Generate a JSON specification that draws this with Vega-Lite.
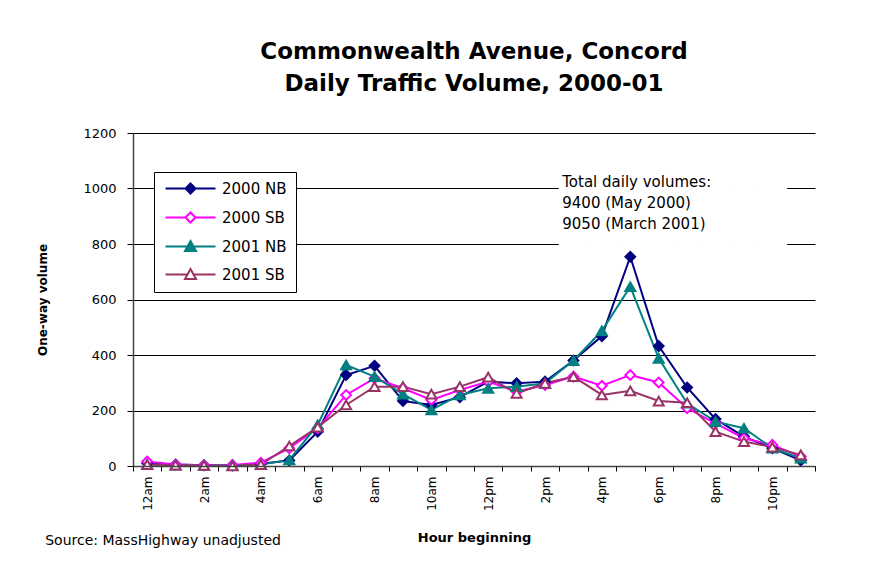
{
  "$schema": "https://vega.github.io/schema/vega-lite/v6.json",
  "width": 682,
  "height": 333,
  "autosize": "none",
  "padding": {"left": 133, "top": 133, "right": 69, "bottom": 98},
  "background": "white",
  "title": {
    "text": ["Commonwealth Avenue, Concord", "Daily Traffic Volume, 2000-01"],
    "font": "DejaVu Sans",
    "fontSize": 23,
    "fontWeight": "bold",
    "lineHeight": 32,
    "anchor": "middle",
    "frame": "group",
    "offset": 31,
    "color": "black"
  },
  "datasets": {
    "traffic": [
      {"hour": "12am", "series": "2000 NB", "volume": 10},
      {"hour": "1am", "series": "2000 NB", "volume": 5},
      {"hour": "2am", "series": "2000 NB", "volume": 3},
      {"hour": "3am", "series": "2000 NB", "volume": 2},
      {"hour": "4am", "series": "2000 NB", "volume": 8},
      {"hour": "5am", "series": "2000 NB", "volume": 20},
      {"hour": "6am", "series": "2000 NB", "volume": 124},
      {"hour": "7am", "series": "2000 NB", "volume": 328},
      {"hour": "8am", "series": "2000 NB", "volume": 361},
      {"hour": "9am", "series": "2000 NB", "volume": 234},
      {"hour": "10am", "series": "2000 NB", "volume": 220},
      {"hour": "11am", "series": "2000 NB", "volume": 248},
      {"hour": "12pm", "series": "2000 NB", "volume": 304},
      {"hour": "1pm", "series": "2000 NB", "volume": 298},
      {"hour": "2pm", "series": "2000 NB", "volume": 304},
      {"hour": "3pm", "series": "2000 NB", "volume": 380},
      {"hour": "4pm", "series": "2000 NB", "volume": 468},
      {"hour": "5pm", "series": "2000 NB", "volume": 754},
      {"hour": "6pm", "series": "2000 NB", "volume": 432},
      {"hour": "7pm", "series": "2000 NB", "volume": 283},
      {"hour": "8pm", "series": "2000 NB", "volume": 169},
      {"hour": "9pm", "series": "2000 NB", "volume": 106},
      {"hour": "10pm", "series": "2000 NB", "volume": 64},
      {"hour": "11pm", "series": "2000 NB", "volume": 20},
      {"hour": "12am", "series": "2000 SB", "volume": 16},
      {"hour": "1am", "series": "2000 SB", "volume": 5},
      {"hour": "2am", "series": "2000 SB", "volume": 3},
      {"hour": "3am", "series": "2000 SB", "volume": 4},
      {"hour": "4am", "series": "2000 SB", "volume": 12},
      {"hour": "5am", "series": "2000 SB", "volume": 64},
      {"hour": "6am", "series": "2000 SB", "volume": 136},
      {"hour": "7am", "series": "2000 SB", "volume": 256},
      {"hour": "8am", "series": "2000 SB", "volume": 316},
      {"hour": "9am", "series": "2000 SB", "volume": 280},
      {"hour": "10am", "series": "2000 SB", "volume": 238},
      {"hour": "11am", "series": "2000 SB", "volume": 274},
      {"hour": "12pm", "series": "2000 SB", "volume": 304},
      {"hour": "1pm", "series": "2000 SB", "volume": 268},
      {"hour": "2pm", "series": "2000 SB", "volume": 292},
      {"hour": "3pm", "series": "2000 SB", "volume": 322},
      {"hour": "4pm", "series": "2000 SB", "volume": 289},
      {"hour": "5pm", "series": "2000 SB", "volume": 328},
      {"hour": "6pm", "series": "2000 SB", "volume": 301},
      {"hour": "7pm", "series": "2000 SB", "volume": 208},
      {"hour": "8pm", "series": "2000 SB", "volume": 154},
      {"hour": "9pm", "series": "2000 SB", "volume": 100},
      {"hour": "10pm", "series": "2000 SB", "volume": 76},
      {"hour": "11pm", "series": "2000 SB", "volume": 34},
      {"hour": "12am", "series": "2001 NB", "volume": 5},
      {"hour": "1am", "series": "2001 NB", "volume": 3},
      {"hour": "2am", "series": "2001 NB", "volume": 2},
      {"hour": "3am", "series": "2001 NB", "volume": 2},
      {"hour": "4am", "series": "2001 NB", "volume": 5},
      {"hour": "5am", "series": "2001 NB", "volume": 22},
      {"hour": "6am", "series": "2001 NB", "volume": 148},
      {"hour": "7am", "series": "2001 NB", "volume": 364},
      {"hour": "8am", "series": "2001 NB", "volume": 322},
      {"hour": "9am", "series": "2001 NB", "volume": 259},
      {"hour": "10am", "series": "2001 NB", "volume": 202},
      {"hour": "11am", "series": "2001 NB", "volume": 256},
      {"hour": "12pm", "series": "2001 NB", "volume": 280},
      {"hour": "1pm", "series": "2001 NB", "volume": 286},
      {"hour": "2pm", "series": "2001 NB", "volume": 298},
      {"hour": "3pm", "series": "2001 NB", "volume": 380},
      {"hour": "4pm", "series": "2001 NB", "volume": 487},
      {"hour": "5pm", "series": "2001 NB", "volume": 646},
      {"hour": "6pm", "series": "2001 NB", "volume": 388},
      {"hour": "7pm", "series": "2001 NB", "volume": 226},
      {"hour": "8pm", "series": "2001 NB", "volume": 160},
      {"hour": "9pm", "series": "2001 NB", "volume": 136},
      {"hour": "10pm", "series": "2001 NB", "volume": 64},
      {"hour": "11pm", "series": "2001 NB", "volume": 28},
      {"hour": "12am", "series": "2001 SB", "volume": 5},
      {"hour": "1am", "series": "2001 SB", "volume": 3},
      {"hour": "2am", "series": "2001 SB", "volume": 2},
      {"hour": "3am", "series": "2001 SB", "volume": 0},
      {"hour": "4am", "series": "2001 SB", "volume": 5},
      {"hour": "5am", "series": "2001 SB", "volume": 72},
      {"hour": "6am", "series": "2001 SB", "volume": 140},
      {"hour": "7am", "series": "2001 SB", "volume": 220},
      {"hour": "8am", "series": "2001 SB", "volume": 286},
      {"hour": "9am", "series": "2001 SB", "volume": 286},
      {"hour": "10am", "series": "2001 SB", "volume": 259},
      {"hour": "11am", "series": "2001 SB", "volume": 286},
      {"hour": "12pm", "series": "2001 SB", "volume": 320},
      {"hour": "1pm", "series": "2001 SB", "volume": 262},
      {"hour": "2pm", "series": "2001 SB", "volume": 298},
      {"hour": "3pm", "series": "2001 SB", "volume": 322},
      {"hour": "4pm", "series": "2001 SB", "volume": 256},
      {"hour": "5pm", "series": "2001 SB", "volume": 271},
      {"hour": "6pm", "series": "2001 SB", "volume": 234},
      {"hour": "7pm", "series": "2001 SB", "volume": 228},
      {"hour": "8pm", "series": "2001 SB", "volume": 124},
      {"hour": "9pm", "series": "2001 SB", "volume": 88},
      {"hour": "10pm", "series": "2001 SB", "volume": 68},
      {"hour": "11pm", "series": "2001 SB", "volume": 40}
    ],
    "box": [
      {"hour": "3pm", "low": 780, "high": 1070},
      {"hour": "4pm", "low": 780, "high": 1070},
      {"hour": "5pm", "low": 780, "high": 1070},
      {"hour": "6pm", "low": 780, "high": 1070},
      {"hour": "7pm", "low": 780, "high": 1070},
      {"hour": "8pm", "low": 780, "high": 1070},
      {"hour": "9pm", "low": 780, "high": 1070},
      {"hour": "10pm", "low": 780, "high": 1070}
    ],
    "notes": [
      {"hour": "3pm", "volume": 1050, "label": "Total daily volumes:\n9400 (May 2000)\n9050 (March 2001)"}
    ],
    "source": [
      {"hour": "12am", "volume": -272, "label": "Source:  MassHighway unadjusted"}
    ]
  },
  "encoding": {
    "x": {
      "field": "hour",
      "type": "ordinal",
      "sort": null,
      "scale": {
        "domain": ["12am","1am","2am","3am","4am","5am","6am","7am","8am","9am","10am","11am","12pm","1pm","2pm","3pm","4pm","5pm","6pm","7pm","8pm","9pm","10pm","11pm"],
        "paddingInner": 0,
        "paddingOuter": 0
      },
      "axis": {
        "title": "Hour beginning",
        "titleFont": "DejaVu Sans",
        "titleFontSize": 13,
        "titleFontWeight": "bold",
        "titleColor": "black",
        "titleY": 71,
        "titleBaseline": "middle",
        "labelAngle": -90,
        "labelAlign": "right",
        "labelBaseline": "middle",
        "labelFont": "DejaVu Sans",
        "labelFontSize": 12,
        "labelColor": "black",
        "labelPadding": 5,
        "labelOverlap": false,
        "labelExpr": "indexof(['12am','2am','4am','6am','8am','10am','12pm','2pm','4pm','6pm','8pm','10pm'], datum.value) >= 0 ? datum.label : ''",
        "tickBand": "extent",
        "tickSize": 5,
        "tickColor": "black",
        "domainColor": "#444444",
        "domainWidth": 1.5,
        "grid": false
      }
    }
  },
  "layer": [
    {
      "data": {"name": "box"},
      "mark": {"type": "rect", "fill": "white", "stroke": "white", "strokeWidth": 1},
      "encoding": {
        "y": {"field": "low", "type": "quantitative", "scale": {"domain": [0, 1200], "nice": false}},
        "y2": {"field": "high"}
      }
    },
    {
      "data": {"name": "traffic"},
      "mark": {"type": "line", "strokeWidth": 2},
      "encoding": {
        "y": {
          "field": "volume",
          "type": "quantitative",
          "scale": {"domain": [0, 1200], "nice": false},
          "axis": {
            "title": "One-way volume",
            "titleFont": "DejaVu Sans",
            "titleFontSize": 12,
            "titleFontWeight": "bold",
            "titleColor": "black",
            "titleX": -84,
            "values": [0, 200, 400, 600, 800, 1000, 1200],
            "format": "d",
            "labelFont": "DejaVu Sans",
            "labelFontSize": 13,
            "labelColor": "black",
            "labelPadding": 11,
            "tickSize": 6,
            "tickColor": "black",
            "domainColor": "#444444",
            "domainWidth": 1.5,
            "grid": true,
            "gridColor": "black",
            "gridWidth": 1
          }
        },
        "stroke": {
          "field": "series",
          "type": "nominal",
          "scale": {"domain": ["2000 NB", "2000 SB", "2001 NB", "2001 SB"], "range": ["#000080", "#FF00FF", "#008080", "#993366"]},
          "legend": {
            "title": null,
            "orient": "none",
            "legendX": 21,
            "legendY": 39,
            "fillColor": "white",
            "strokeColor": "black",
            "padding": 9,
            "rowPadding": 10,
            "symbolSize": 100,
            "symbolStrokeWidth": 2,
            "labelOffset": 44,
            "labelFont": "DejaVu Sans",
            "labelFontSize": 15,
            "labelColor": "black"
          }
        }
      }
    },
    {
      "data": {"name": "traffic"},
      "transform": [{"filter": "datum.series === '2000 NB' || datum.series === '2000 SB'"}],
      "mark": {"type": "point", "shape": "diamond", "filled": true, "strokeWidth": 2, "size": 95, "opacity": 1},
      "encoding": {
        "y": {"field": "volume", "type": "quantitative"},
        "stroke": {"field": "series", "type": "nominal", "legend": null},
        "fill": {
          "field": "series",
          "type": "nominal",
          "legend": null,
          "scale": {"domain": ["2000 NB", "2000 SB", "2001 NB", "2001 SB"], "range": ["#000080", "white", "#008080", "white"]}
        }
      }
    },
    {
      "data": {"name": "traffic"},
      "transform": [{"filter": "datum.series === '2001 NB' || datum.series === '2001 SB'"}],
      "mark": {"type": "point", "shape": "triangle-up", "filled": true, "strokeWidth": 2, "size": 100, "opacity": 1},
      "encoding": {
        "y": {"field": "volume", "type": "quantitative"},
        "stroke": {"field": "series", "type": "nominal", "legend": null},
        "fill": {"field": "series", "type": "nominal", "legend": null}
      }
    },
    {
      "data": {"name": "traffic"},
      "transform": [{"filter": "datum.volume < 0"}],
      "mark": {"type": "point", "filled": true, "strokeWidth": 2, "size": 100, "opacity": 1},
      "encoding": {
        "y": {"field": "volume", "type": "quantitative"},
        "stroke": {"field": "series", "type": "nominal", "legend": null},
        "fill": {"field": "series", "type": "nominal", "legend": null},
        "shape": {
          "field": "series",
          "type": "nominal",
          "legend": null,
          "scale": {
            "domain": ["2000 NB", "2000 SB", "2001 NB", "2001 SB"],
            "range": [
              "M-1,0H3M5,0H9M4,-1L5,0L4,1L3,0Z",
              "M-1,0H3M5,0H9M4,-1L5,0L4,1L3,0Z",
              "M-1,0H3.4M4.6,0H9M4,-1.1L5.1,0.9L2.9,0.9Z",
              "M-1,0H3.4M4.6,0H9M4,-1.1L5.1,0.9L2.9,0.9Z"
            ]
          }
        }
      }
    },
    {
      "data": {"name": "notes"},
      "mark": {"type": "text", "align": "left", "baseline": "top", "lineBreak": "\n", "lineHeight": 21, "font": "DejaVu Sans", "fontSize": 15, "color": "black", "dx": 3},
      "encoding": {
        "x": {"field": "hour", "type": "ordinal", "bandPosition": 0},
        "y": {"field": "volume", "type": "quantitative"},
        "text": {"field": "label"}
      }
    },
    {
      "data": {"name": "source"},
      "mark": {"type": "text", "align": "left", "baseline": "middle", "font": "DejaVu Sans", "fontSize": 14, "color": "black", "dx": -102},
      "encoding": {
        "y": {"field": "volume", "type": "quantitative"},
        "text": {"field": "label"}
      }
    }
  ],
  "config": {
    "view": {"stroke": null}
  }
}
